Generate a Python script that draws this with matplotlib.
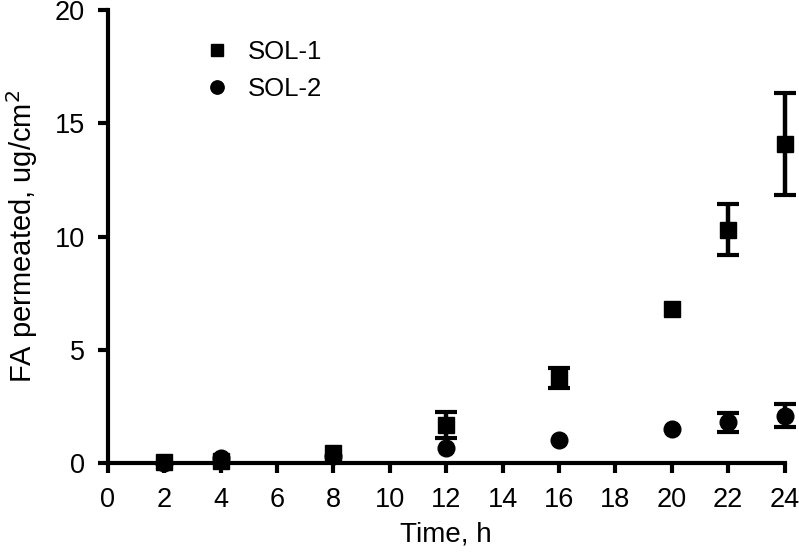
import matplotlib
matplotlib.use("Agg")
import matplotlib.pyplot as plt
import numpy as np

plt.rcParams['font.family'] = ['Liberation Sans', 'DejaVu Sans']

nan = np.nan
time1 = [2, 4, 8, 12, 16, 20, 22, 24]
sol1 = [0.05, 0.1, 0.45, 1.68, 3.75, 6.8, 10.3, 14.1]
sol1_err = [nan, nan, nan, 0.58, 0.45, nan, 1.12, 2.25]

time2 = [2, 4, 8, 12, 16, 20, 22, 24]
sol2 = [0.02, 0.22, 0.3, 0.66, 1.02, 1.5, 1.8, 2.1]
sol2_err = [nan, nan, nan, nan, nan, nan, 0.42, 0.5]

fig = plt.figure(figsize=(7.99, 5.56), dpi=100)
ax = fig.add_axes([0.135, 0.167, 0.847, 0.815])

ax.errorbar(time1, sol1, yerr=sol1_err, fmt='s', color='black', markersize=11.5,
            elinewidth=3.2, capsize=8, capthick=3, label='SOL-1', clip_on=False, zorder=3)
ax.errorbar(time2, sol2, yerr=sol2_err, fmt='o', color='black', markersize=12,
            elinewidth=3.2, capsize=8, capthick=3, label='SOL-2', clip_on=False, zorder=3)

ax.set_xlim(0, 24)
ax.set_ylim(0, 20)
ax.set_xticks(range(0, 25, 2))
ax.set_yticks([0, 5, 10, 15, 20])
for s in ['top', 'right']:
    ax.spines[s].set_visible(False)
for s in ['left', 'bottom']:
    ax.spines[s].set_linewidth(3)
ax.tick_params(direction='out', length=7.5, width=3, labelsize=19.5)
ax.tick_params(axis='x', pad=10)
ax.tick_params(axis='y', pad=9)

ax.set_xlabel('Time, h', fontsize=20)
ax.set_ylabel('FA permeated, ug/cm$^2$', fontsize=21)
ax.xaxis.set_label_coords(0.5, -0.128)
ax.yaxis.set_label_coords(-0.1, 0.5)

handles, labels = ax.get_legend_handles_labels()
handles = [h[0] for h in handles]
ax.legend(handles, labels, loc='upper left', bbox_to_anchor=(0.105, 0.985), frameon=False,
          fontsize=18.5, markerscale=0.8, handlelength=1.2, handletextpad=0.6,
          labelspacing=0.5)

fig.savefig('out.png', dpi=100)
